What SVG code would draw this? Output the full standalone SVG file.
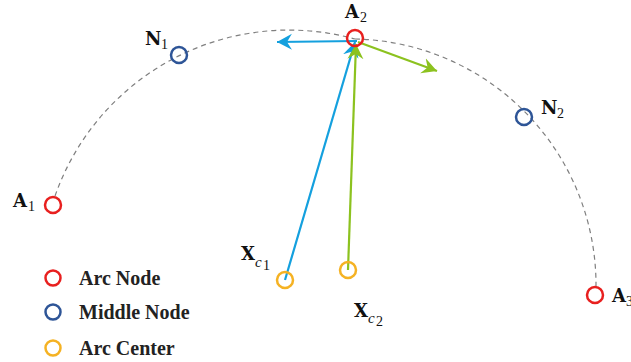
<svg xmlns="http://www.w3.org/2000/svg" width="631" height="362" viewBox="0 0 631 362">
<style>
.arc{fill:none;stroke:#7f7f7f;stroke-width:1.2;stroke-dasharray:5 4}
.n{fill:none;stroke-width:2.5}
.red{stroke:#e8201f}
.blue{stroke:#2e5597}
.org{stroke:#f5b223}
.lb{font-family:"DejaVu Serif","Liberation Serif",serif;font-weight:bold;font-size:18px;fill:#111}
.sb{font-family:"Liberation Serif",serif;font-size:14px;fill:#111}
.si{font-family:"Liberation Serif",serif;font-style:italic;font-size:15px;fill:#111}
.lg{font-family:"Liberation Serif",serif;font-weight:bold;font-size:20px;fill:#222}
.bl{stroke:#14a0de;stroke-width:2.2;fill:none}
.gr{stroke:#8cc21f;stroke-width:2.2;fill:none}
</style>
<defs>
<marker id="ab" markerUnits="userSpaceOnUse" markerWidth="18" markerHeight="18" refX="15" refY="9" orient="auto"><path d="M0,1 L15,9 L0,17 L5,9 z" fill="#14a0de"/></marker>
<marker id="ag" markerUnits="userSpaceOnUse" markerWidth="18" markerHeight="18" refX="15" refY="9" orient="auto"><path d="M0,1 L15,9 L0,17 L5,9 z" fill="#8cc21f"/></marker>
</defs>
<g id="connectors">
<path class="arc" d="M 55 196 A 248 248 0 0 1 355 39"/>
<path class="arc" d="M 355 39 A 246 246 0 0 1 596 287"/>
<line class="bl" x1="285" y1="280" x2="355" y2="42" marker-end="url(#ab)"/>
<line class="gr" x1="348" y1="270" x2="356" y2="44" marker-end="url(#ag)"/>
<line class="bl" x1="357" y1="41" x2="277" y2="42" marker-end="url(#ab)"/>
<line class="gr" x1="358" y1="42" x2="437" y2="71" marker-end="url(#ag)"/>
</g>
<g id="A1"><circle class="n red" cx="53" cy="205" r="8"/><text class="lb" x="13" y="207">A</text><text class="sb" x="28" y="211">1</text></g>
<g id="A2"><circle class="n red" cx="355" cy="38" r="8"/><text class="lb" x="345" y="18">A</text><text class="sb" x="360" y="22">2</text></g>
<g id="A3"><circle class="n red" cx="595" cy="295" r="8"/><text class="lb" x="612" y="302">A</text><text class="sb" x="626" y="306">3</text></g>
<g id="N1"><circle class="n blue" cx="179" cy="55" r="8"/><text class="lb" x="145" y="45">N</text><text class="sb" x="161" y="49">1</text></g>
<g id="N2"><circle class="n blue" cx="524" cy="117" r="8"/><text class="lb" x="541" y="114">N</text><text class="sb" x="557" y="118">2</text></g>
<g id="Xc1"><circle class="n org" cx="285" cy="280" r="8"/><text class="lb" x="241" y="260">X</text><text class="si" x="255" y="267">c</text><text class="sb" x="263" y="270" font-size="11">1</text></g>
<g id="Xc2"><circle class="n org" cx="348" cy="270" r="8"/><text class="lb" x="354" y="317">X</text><text class="si" x="368" y="323">c</text><text class="sb" x="376" y="326" font-size="11">2</text></g>
<g id="legend">
<circle class="n red" cx="53" cy="278" r="7.5"/><text class="lg" x="79" y="285">Arc Node</text>
<circle class="n blue" cx="53" cy="312" r="7.5"/><text class="lg" x="79" y="319">Middle Node</text>
<circle class="n org" cx="53" cy="348" r="7.5"/><text class="lg" x="79" y="355">Arc Center</text>
</g>
</svg>
